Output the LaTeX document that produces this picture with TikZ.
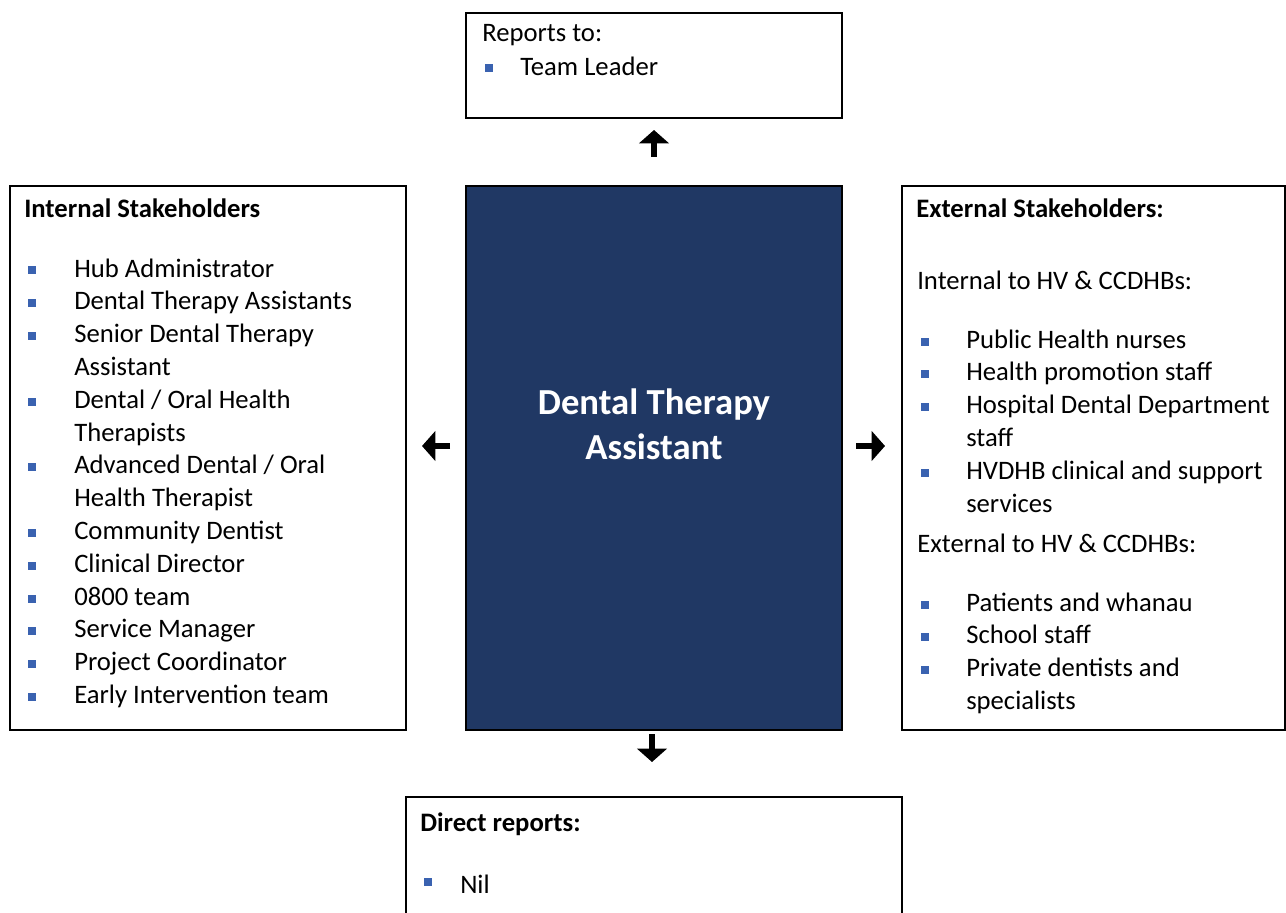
\documentclass[tikz,border=0pt]{standalone}
\usepackage{fontspec}
\setmainfont{Carlito}
\usetikzlibrary{fit,arrows.meta}
\definecolor{navy}{HTML}{203864}
\definecolor{bulblue}{HTML}{3A62B0}
\tikzset{
  box/.style={draw=black, line width=1.5pt, inner sep=0pt},
  txt/.style={anchor=base west, inner sep=0pt, font=\fontsize{20}{24}\selectfont},
  hdr/.style={txt, font=\fontsize{20}{24}\selectfont\bfseries},
  bul/.style={fill=bulblue, draw=none, minimum size=6pt, inner sep=0pt},
  bigarrow/.style={line width=3.8pt, -{Triangle[width=22pt 0,length=10pt 0]}},
}
\begin{document}
\begin{tikzpicture}[x=0.75pt,y=-0.75pt]
\useasboundingbox (0,0) rectangle (1286,913);
% boxes
\node[box, fit={(466,13) (842,118)}] (top) {};
\node[box, fit={(10,186) (406,730)}] (left) {};
\node[box, fill=navy, fit={(466,186) (842,730)}] (center) {};
\node[box, fit={(902,186) (1285,730)}] (right) {};
\node[box, fit={(406,797) (902,940)}] (bottom) {};
% top box
\node[txt] (rt) at (482,42) {Reports to:};
\node[bul] (rtb) at (489,68) {};
\node[txt] (tl) at (520,76) {Team Leader};
% center
\node[anchor=base, inner sep=0pt, text=white, font=\fontsize{27.5}{33}\selectfont\bfseries] (c1) at (654,414) {Dental Therapy};
\node[anchor=base, inner sep=0pt, text=white, font=\fontsize{27.5}{33}\selectfont\bfseries] (c2) at (654,459) {Assistant};
% left box
\node[hdr] (lh) at (24,218) {Internal Stakeholders};
\foreach \t [count=\i from 0] in {Hub Administrator, Dental Therapy Assistants, Senior Dental Therapy, Assistant, Dental / Oral Health, Therapists, Advanced Dental / Oral, Health Therapist, Community Dentist, Clinical Director, 0800 team, Service Manager, Project Coordinator, Early Intervention team}{
  \node[txt] (lt\i) at (74,{277+32.8*\i}) {\t};
}
\foreach \j in {0,1,2,4,6,8,9,10,11,12,13}{
  \node[bul] (lb\j) at (32,{270.5+32.8*\j}) {};
}
% right box
\node[hdr] (rh) at (916,218) {External Stakeholders:};
\node[txt] (ri) at (917,290) {Internal to HV \& CCDHBs:};
\foreach \t [count=\i from 0] in {Public Health nurses, Health promotion staff, Hospital Dental Department, staff, HVDHB clinical and support, services}{
  \node[txt] (rt\i) at (966,{348+32.8*\i}) {\t};
}
\foreach \j in {0,1,2,4}{
  \node[bul] (rb\j) at (925,{341.5+32.8*\j}) {};
}
\node[txt] (re) at (917,552) {External to HV \& CCDHBs:};
\foreach \t [count=\i from 0] in {Patients and whanau, School staff, Private dentists and, specialists}{
  \node[txt] (rs\i) at (966,{611+32.8*\i}) {\t};
}
\foreach \j in {0,1,2}{
  \node[bul] (rc\j) at (925,{604.5+32.8*\j}) {};
}
% bottom box
\node[hdr] (bh) at (420,831) {Direct reports:};
\node[bul] (bb) at (428,882) {};
\node[txt] (bn) at (460,893) {Nil};
% arrows
\coordinate (upS) at (654,157);
\coordinate (upE) at (654,130);
\coordinate (dnS) at (652,734);
\coordinate (dnE) at (652,762);
\coordinate (lfS) at (450,446);
\coordinate (lfE) at (422,446);
\coordinate (rtS) at (856,446);
\coordinate (rtE) at (885,446);
\draw[bigarrow] (upS) -- (upE);
\draw[bigarrow] (dnS) -- (dnE);
\draw[bigarrow] (lfS) -- (lfE);
\draw[bigarrow] (rtS) -- (rtE);
\end{tikzpicture}
\end{document}
